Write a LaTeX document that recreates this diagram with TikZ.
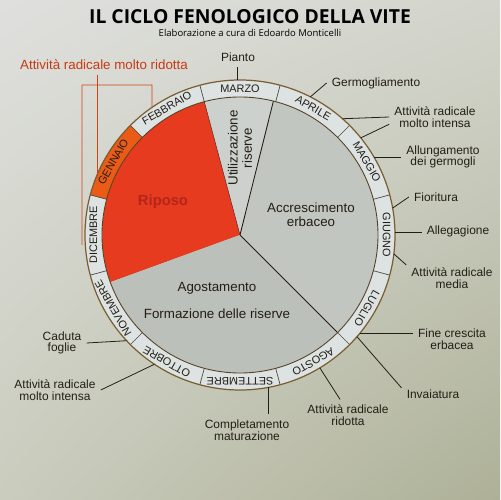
\documentclass[tikz,border=0pt]{standalone}
\usepackage{fontspec}
\setmainfont{Liberation Sans}
\newfontfamily\titlefont{Open Sans}
\usetikzlibrary{calc,shadings}
\definecolor{bgtl}{HTML}{DFE0DD}
\definecolor{bgtr}{HTML}{D3D5CC}
\definecolor{bgbl}{HTML}{CACCBE}
\definecolor{bgbr}{HTML}{AEB197}
\definecolor{ringc}{HTML}{DDE2E3}
\definecolor{sectc}{HTML}{C2C6C0}
\definecolor{utilc}{HTML}{CDD1CE}
\definecolor{riposoc}{HTML}{E63B1E}
\definecolor{gennc}{HTML}{EA5B17}
\definecolor{edgec}{HTML}{7B5E30}
\definecolor{inkc}{HTML}{221E14}
\definecolor{redtxt}{HTML}{C63A14}
\definecolor{riptxt}{HTML}{B3261C}

\begin{document}
\begin{tikzpicture}[x=0.02cm,y=0.02cm,
  lbl/.style={align=center,font=\fontsize{6.8}{6.7}\selectfont,text=inkc,inner sep=1pt,outer sep=2pt},
  month/.style={font=\fontsize{6.2}{7}\selectfont,text=inkc,inner sep=0pt},
  inlbl/.style={align=center,font=\fontsize{7.6}{8}\selectfont,text=inkc,inner sep=1pt},
  tick/.style={draw=inkc,line width=0.45pt},
  bracket/.style={draw=redtxt!85!orange,line width=0.45pt}]
\useasboundingbox (-240,-265) rectangle (260,235);
\shade[upper left=bgtl,upper right=bgtr,lower left=bgbl,lower right=bgbr] (-240,-265) rectangle (260,235);

% title
\node[font=\titlefont\bfseries\fontsize{11}{13}\selectfont,text=black] (title) at (10,218) {IL CICLO FENOLOGICO DELLA VITE};
\node[font=\titlefont\fontsize{5.4}{6}\selectfont,text=black] (sub) at (10,202) {Elaborazione a cura di Edoardo Monticelli};

% pie sectors
\fill[riposoc] (0,0) -- (105:138) arc[start angle=105,end angle=200,radius=138] -- cycle;
\fill[utilc] (0,0) -- (76:138) arc[start angle=76,end angle=105,radius=138] -- cycle;
\fill[sectc] (0,0) -- (-45:138) arc[start angle=-45,end angle=76,radius=138] -- cycle;
\fill[sectc!97!black] (0,0) -- (200:138) arc[start angle=200,end angle=315,radius=138] -- cycle;
\draw[inkc,line width=0.5pt] (0,0) -- (76:138) (0,0) -- (-45:138);
\draw[riptxt!60!black,line width=0.3pt] (0,0) -- (105:138);

% ring of months
\fill[ringc,even odd rule] (0,0) circle[radius=155] (0,0) circle[radius=138];
\fill[gennc] (135:138) arc[start angle=135,end angle=165,radius=138] -- (165:155) arc[start angle=165,end angle=135,radius=155] -- cycle;
\foreach \a in {15,45,...,345}
  \draw[inkc!80,line width=0.4pt] (\a:138) -- (\a:155);
\draw[edgec,line width=0.7pt] (0,0) circle[radius=155];
\draw[edgec!70!black,line width=0.5pt] (0,0) circle[radius=138];
\foreach \m [count=\i from 0] in {MARZO,APRILE,MAGGIO,GIUGNO,LUGLIO,AGOSTO,SETTEMBRE,OTTOBRE,NOVEMBRE,DICEMBRE,GENNAIO,FEBBRAIO}{
  \pgfmathsetmacro\ang{90-30*\i}
  \node[month,rotate=\ang-90] (m\i) at (\ang:146.5) {\m};
}

% inside texts
\node[font=\bfseries\fontsize{8.4}{10}\selectfont,text=riptxt] (riposo) at (-77,33) {Riposo};
\node[inlbl,rotate=90] (util) at (0,87) {Utilizzazione\\riserve};
\node[inlbl] (accr) at (71,20) {Accrescimento\\erbaceo};
\node[inlbl] (agost) at (-23,-53) {Agostamento};
\node[inlbl] (form) at (-23,-79) {Formazione delle riserve};

% points on the ring
\coordinate (rPianto) at (91:155);
\coordinate (rGerm) at (63:155);
\coordinate (rInt1) at (48.6:155);
\coordinate (rInt2) at (38.8:155);
\coordinate (rAllung) at (30:155);
\coordinate (rFior) at (10:155);
\coordinate (rAlleg) at (1:155);
\coordinate (rMed) at (-7:155);
\coordinate (rFine) at (-39.5:155);
\coordinate (rInvai) at (-41:155);
\coordinate (rRid) at (-59:155);
\coordinate (rCompl) at (-79.4:155);
\coordinate (rCaduta) at (-137:155);
\coordinate (rInt3) at (-123.5:155);
\coordinate (rMolto) at (157.3:155);
\coordinate (rBrk) at (124.6:155);
\coordinate (brkA) at (-158,-10);
\coordinate (brkB) at (-158,150);
\coordinate (brkC) at (-88,150);

% outside labels
\node[lbl] (pianto) at (-2,178) {Pianto};
\node[lbl] (germ) at (136,152) {Germogliamento};
\node[lbl] (radInt) at (195,118) {Attività radicale\\molto intensa};
\node[lbl] (allung) at (203,78) {Allungamento\\dei germogli};
\node[lbl] (fior) at (196,38) {Fioritura};
\node[lbl] (alleg) at (218,4) {Allegagione};
\node[lbl] (radMed) at (212,-43) {Attività radicale\\media};
\node[lbl] (fine) at (212,-104) {Fine crescita\\erbacea};
\node[lbl] (invai) at (193,-159) {Invaiatura};
\node[lbl] (radRid) at (108,-180) {Attività radicale\\ridotta};
\node[lbl] (compl) at (7,-195) {Completamento\\maturazione};
\node[lbl] (caduta) at (-178,-108) {Caduta\\foglie};
\node[lbl] (radInt2) at (-185,-155) {Attività radicale\\molto intensa};
\node[lbl,font=\fontsize{7.6}{9}\selectfont,text=redtxt] (radMolto) at (-136,170) {Attività radicale molto ridotta};

% connectors
\draw[tick] (rPianto) -- (rPianto |- pianto.south);
\draw[tick] (rGerm) -- (germ.west);
\draw[tick] (rInt1) -- (radInt.west);
\draw[tick] (rInt2) -- (radInt.189);
\draw[tick] (rAllung) -- (rAllung -| allung.west);
\draw[tick] (rFior) -- (fior.west);
\draw[tick] (rAlleg) -- (rAlleg -| alleg.west);
\draw[tick] (rMed) -- (radMed.164);
\draw[tick] (rFine) -- (rFine -| fine.west);
\draw[tick] (rInvai) -- (invai.169);
\draw[tick] (rRid) -- (radRid.117);
\draw[tick] (rCompl) -- (rCompl |- compl.north);
\draw[tick] (rCaduta) -- (caduta.east);
\draw[tick] (rInt3) -- (radInt2.east);
\draw[bracket] (rMolto) -- (rMolto |- radMolto.south);
\draw[bracket] (brkA) -- (brkB) -- (brkC) -- (rBrk);
\end{tikzpicture}
\end{document}
